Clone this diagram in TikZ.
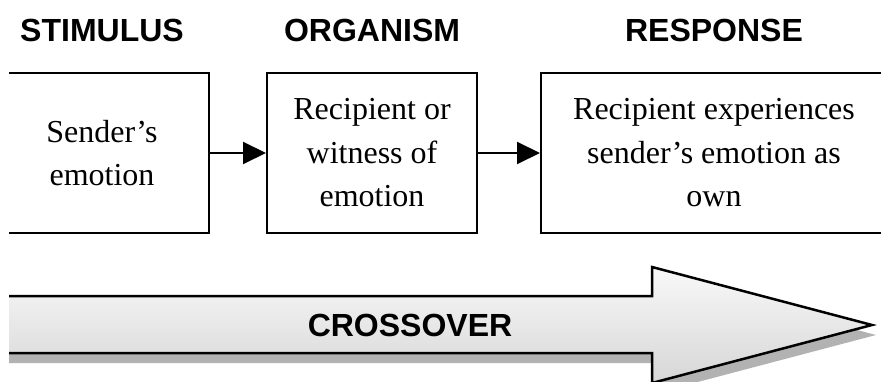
\documentclass[tikz,border=0pt]{standalone}
\usepackage{fontspec}
\setmainfont{Liberation Serif}
\newfontfamily\headfont{Liberation Sans}
\usetikzlibrary{arrows.meta,positioning,shadows}

\begin{document}
\begin{tikzpicture}[x=1pt,y=-1pt]
\tikzstyle{stagebox}=[draw,line width=2pt,minimum height=160pt,align=center,inner sep=0pt,font=\fontsize{32}{43.5}\selectfont]
\tikzstyle{heading}=[inner sep=0pt,font=\headfont\bfseries\fontsize{32}{36}\selectfont]
\tikzstyle{flowarrow}=[line width=2pt,-{Triangle[length=23pt,width=22pt]}]
\useasboundingbox (0,0) rectangle (881,382);
%\draw[step=50pt,color=gray] (0,0) grid (881,382);
\clip (9,0) rectangle (881,382);
% the three stages
\node[stagebox,minimum width=214pt] (stimbox) at (102,153) {Sender's\\emotion};
\node[stagebox,minimum width=210pt] (orgbox) at (372,153) {Recipient or\\witness of\\emotion};
\node[stagebox,minimum width=346pt] (respbox) at (714,153) {Recipient experiences\\sender's emotion as\\own};
\draw[flowarrow] (stimbox) -- (orgbox); \draw[flowarrow] (orgbox) -- (respbox);
% headings over the stages
\node[heading,above=30pt of stimbox] (stimulus) {STIMULUS};
\node[heading,above=30pt of orgbox] (organism) {ORGANISM};
\node[heading,above=30pt of respbox] (response) {RESPONSE};
% crossover band, with its shadow
\draw[line width=2.5pt,top color=gray!5,bottom color=gray!32,
  drop shadow={shadow xshift=4pt,shadow yshift=-10pt,fill=gray!60,opacity=1}]
  (-5,296) -- (652,296) -- (652,267) -- (872,325) -- (652,383) -- (652,353) -- (-5,353) -- cycle;
\node[heading] (crossover) at (410,325) {CROSSOVER};
\end{tikzpicture}
\end{document}
